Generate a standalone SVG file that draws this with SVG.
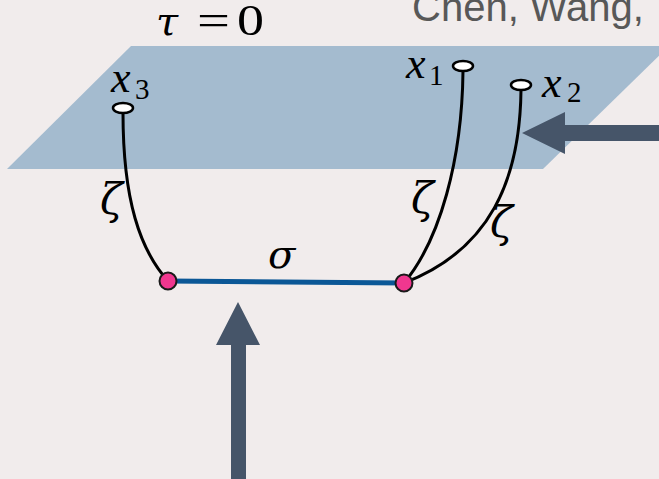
<svg xmlns="http://www.w3.org/2000/svg" width="659" height="479" viewBox="0 0 659 479">
<style>
.math{font-family:"Liberation Serif","DejaVu Serif",serif;font-style:italic;fill:#000}
.greek{font-family:"DejaVu Serif","Liberation Serif",serif;font-style:italic;fill:#000}
.rm{font-family:"Liberation Serif","DejaVu Serif",serif;fill:#000}
.end{fill:#fff;stroke:#000;stroke-width:2.5}
.vtx{fill:#f0378f;stroke:#1a1a1a;stroke-width:2}
.str{fill:none;stroke:#000;stroke-width:3;stroke-linecap:round}
.arrow{fill:#465569}
</style>
<rect width="659" height="479" fill="#f1ecec"/>
<g id="plane">
<polygon points="131,46 669,46 543,169 7,169" fill="#a4bbcf"/>
</g>
<text id="title" x="412" y="21" font-family="Liberation Sans, Arial, sans-serif" font-size="40" fill="#585858">Chen, Wang,</text>
<g id="tau-label">
<text class="greek" x="156" y="35" font-size="40">τ</text>
<text class="rm" x="197" y="35" font-size="44" textLength="33" lengthAdjust="spacingAndGlyphs">=</text>
<text class="rm" x="237" y="35" font-size="45" textLength="27" lengthAdjust="spacingAndGlyphs">0</text>
</g>
<g id="connectors">
<path class="str" d="M123,113 C123,200 140,250 168,281"/>
<path class="str" d="M463,71 C462,160 440,240 404,283"/>
<path class="str" d="M521,90 C520,180 490,250 404,283"/>
<line x1="168" y1="281" x2="404" y2="283" stroke="#0b5796" stroke-width="5"/>
<polygon class="arrow" points="659,125 565,125 565,112 522,133 565,154 565,141 659,141"/>
<polygon class="arrow" points="231,479 231,345 216,345 238,302 260,345 246,345 246,479"/>
</g>
<g id="x3">
<ellipse class="end" cx="123" cy="108" rx="10" ry="5"/>
<text class="math" x="111" y="92" font-size="44">x</text>
<text class="rm" x="135" y="99" font-size="29">3</text>
</g>
<g id="x1">
<ellipse class="end" cx="463" cy="66" rx="10" ry="5"/>
<text class="math" x="406" y="78" font-size="44">x</text>
<text class="rm" x="429" y="85" font-size="29">1</text>
</g>
<g id="x2">
<ellipse class="end" cx="521" cy="85" rx="10" ry="5"/>
<text class="math" x="542" y="97" font-size="44">x</text>
<text class="rm" x="567" y="102" font-size="29">2</text>
</g>
<g id="v1">
<circle class="vtx" cx="168" cy="281" r="8.5"/>
</g>
<g id="v2">
<circle class="vtx" cx="404" cy="283" r="8.5"/>
</g>
<g id="labels">
<text class="greek" x="100" y="214" font-size="42">ζ</text>
<text class="greek" x="411" y="213" font-size="42">ζ</text>
<text class="greek" x="490" y="237" font-size="42">ζ</text>
<text class="greek" x="268" y="268" font-size="40">σ</text>
</g>
</svg>
